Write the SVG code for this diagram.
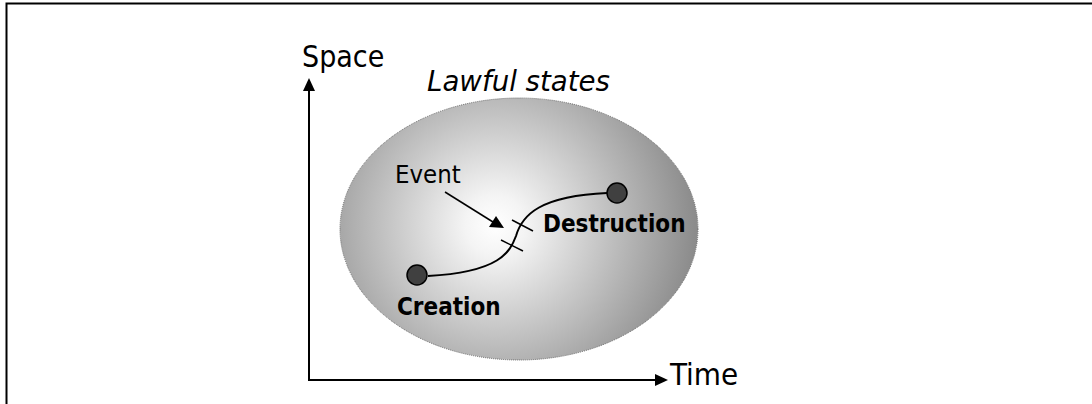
<svg xmlns="http://www.w3.org/2000/svg" width="1092" height="404" viewBox="0 0 1092 404">
<style>
.t{font-family:"DejaVu Sans Condensed","DejaVu Sans",sans-serif;font-stretch:condensed;fill:#000}
.b{font-weight:bold}
.ax{stroke:#000;stroke-width:2;fill:none}
</style>
<defs>
<radialGradient id="g" gradientUnits="userSpaceOnUse" cx="495" cy="225" r="200">
<stop offset="0" stop-color="#ffffff"/>
<stop offset="0.15" stop-color="#f4f4f4"/>
<stop offset="1" stop-color="#8c8c8c"/>
</radialGradient>
</defs>
<rect width="1092" height="404" fill="#fff"/>
<path d="M6.5,404 V3.5 H1092" fill="none" stroke="#000" stroke-width="2"/>
<g id="lawful-states">
<ellipse cx="519" cy="229" rx="179" ry="131" fill="url(#g)" stroke="#666" stroke-width="1" stroke-dasharray="1,1"/>
<text class="t" x="427" y="91" font-size="28" font-style="italic" textLength="183" lengthAdjust="spacingAndGlyphs">Lawful states</text>
</g>
<g id="connectors">
<path class="ax" d="M309,380 V90"/>
<path d="M309,78 L303,91 L315,91 Z" fill="#000"/>
<path class="ax" d="M308,380 H655"/>
<path d="M668,380 L655,374 L655,386 Z" fill="#000"/>
<path d="M428,276 C500,272 510,252 516,236 C522,215 540,196 607,193" fill="none" stroke="#000" stroke-width="2"/>
<path d="M512,220 L533,231 M501,240 L523,251" stroke="#000" stroke-width="1.5"/>
<path d="M445,192 L493,222" stroke="#000" stroke-width="1.5"/>
<path d="M504,228 L489,227 L496,216 Z" fill="#000"/>
</g>
<g id="axis-space"><text class="t" x="302" y="67" font-size="30">Space</text></g>
<g id="axis-time"><text class="t" x="670" y="385" font-size="31">Time</text></g>
<g id="event"><text class="t" x="395" y="183" font-size="25.5">Event</text></g>
<g id="creation">
<circle cx="417" cy="275" r="10" fill="#404040" stroke="#000" stroke-width="1.5"/>
<text class="t b" x="397" y="315" font-size="24">Creation</text>
</g>
<g id="destruction">
<circle cx="617" cy="193" r="10" fill="#404040" stroke="#000" stroke-width="1.5"/>
<text class="t b" x="543" y="232" font-size="24">Destruction</text>
</g>
</svg>
